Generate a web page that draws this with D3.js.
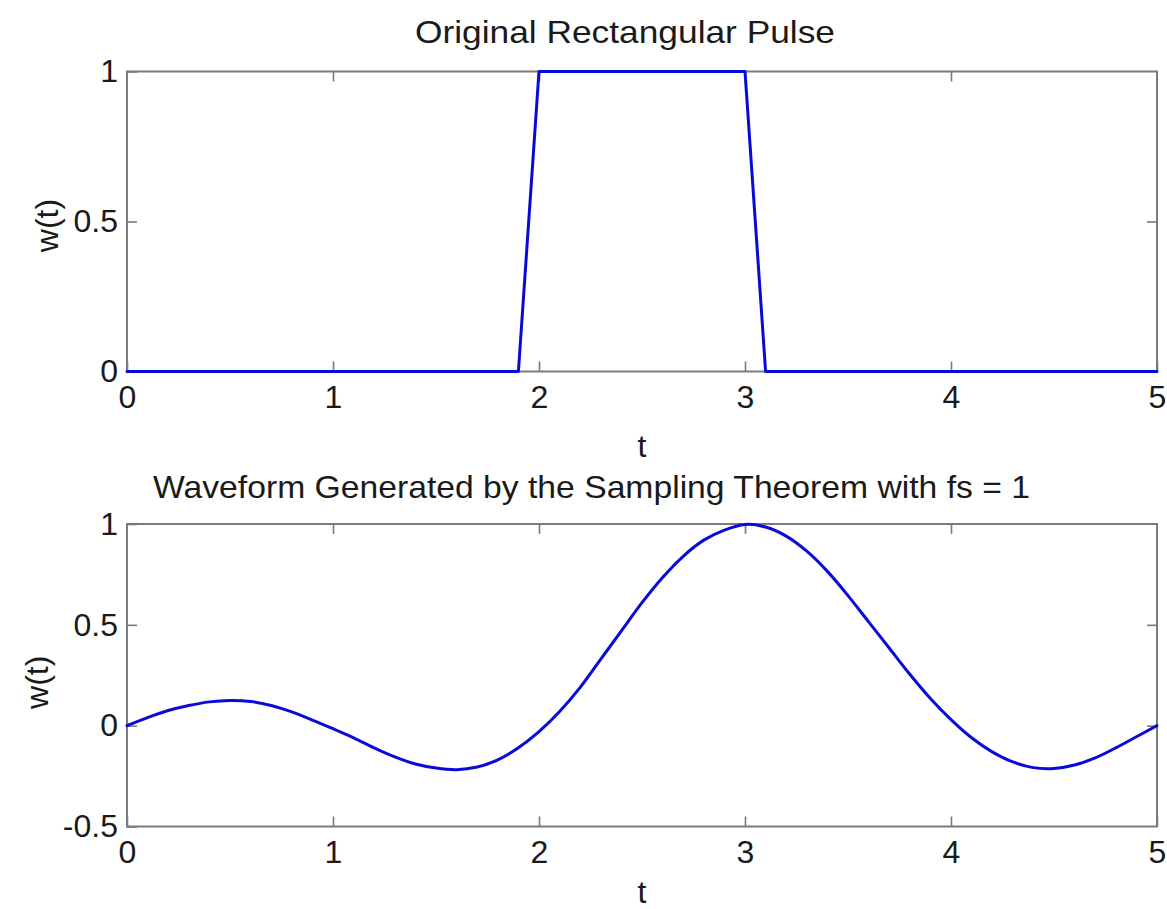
<!DOCTYPE html>
<html>
<head>
<meta charset="utf-8">
<script src="https://cdn.jsdelivr.net/npm/d3@7"></script>
<style>
  html, body { margin: 0; padding: 0; background: #fff; }
  svg { display: block; font-family: "Liberation Sans", Arial, Helvetica, sans-serif; }
</style>
</head>
<body>
<svg id="chart" width="1167" height="909"></svg>
<script>
// ---- data ----
const pulseT = [0,0.1,0.2,0.3,0.4,0.5,0.6,0.7,0.8,0.9,1.0,1.1,1.2,1.3,1.4,1.5,1.6,1.7,1.8,1.9,
                2.0,2.1,2.2,2.3,2.4,2.5,2.6,2.7,2.8,2.9,3.0,3.1,3.2,3.3,3.4,3.5,3.6,3.7,3.8,3.9,
                4.0,4.1,4.2,4.3,4.4,4.5,4.6,4.7,4.8,4.9,5.0];
const pulseW = [0,0,0,0,0,0,0,0,0,0,0,0,0,0,0,0,0,0,0,0,
                1,1,1,1,1,1,1,1,1,1,1,0,0,0,0,0,0,0,0,0,
                0,0,0,0,0,0,0,0,0,0,0];
const waveT = [0,0.1,0.2,0.3,0.4,0.5,0.6,0.7,0.8,0.9,1.0,1.1,1.2,1.3,1.4,1.5,1.6,1.7,1.8,1.9,
               2.0,2.1,2.2,2.3,2.4,2.5,2.6,2.7,2.8,2.9,3.0,3.1,3.2,3.3,3.4,3.5,3.6,3.7,3.8,3.9,
               4.0,4.1,4.2,4.3,4.4,4.5,4.6,4.7,4.8,4.9,5.0];
const waveW = [0.00,0.04,0.075,0.10,0.118,0.125,0.12,0.10,0.068,0.028,-0.015,-0.06,-0.11,-0.155,-0.19,-0.21,-0.218,-0.205,-0.17,-0.11,
               -0.03,0.07,0.19,0.33,0.47,0.61,0.735,0.84,0.92,0.97,0.998,0.985,0.94,0.865,0.765,0.645,0.515,0.385,0.255,0.135,
               0.03,-0.06,-0.13,-0.18,-0.208,-0.212,-0.195,-0.16,-0.11,-0.055,0.00];
const xTicks = [0,1,2,3,4,5];
const yTicksTop = [0,0.5,1];
const yTicksBottom = [-0.5,0,0.5,1];
const titleTop = "Original Rectangular Pulse";
const titleBottom = "Waveform Generated by the Sampling Theorem with fs = 1";
const xLabel = "t";
const yLabel = "w(t)";

// ---- layout ----
const svg = d3.select("#chart");
const L = 127, R = 1157;
const panels = [
  { top: 71.5, bottom: 371.5, yDomain: [0,1], yTicks: yTicksTop, t: pulseT, w: pulseW,
    title: titleTop, titleX: 415, titleY: 43, titleLen: 420, xlabY: 457, ylabX: 47, curve: d3.curveLinear },
  { top: 524, bottom: 826.5, yDomain: [-0.5,1], yTicks: yTicksBottom, t: waveT, w: waveW,
    title: titleBottom, titleX: 153, titleY: 498, titleLen: 877, xlabY: 903, ylabX: 37, curve: d3.curveCatmullRom.alpha(0.5) }
];
const axisColor = "#7a7a7a";
const fontSize = 32;

panels.forEach(p => {
  const x = d3.scaleLinear().domain([0,5]).range([L, R]);
  const y = d3.scaleLinear().domain(p.yDomain).range([p.bottom, p.top]);
  const g = svg.append("g");

  g.append("rect").attr("x", L).attr("y", p.top).attr("width", R - L).attr("height", p.bottom - p.top)
    .attr("fill", "#fff");

  const fmt = d => String(d);
  const styleAxis = sel => {
    sel.select(".domain").remove();
    sel.selectAll(".tick line").attr("stroke", axisColor).attr("stroke-width", 1.6);
    sel.selectAll(".tick text").attr("fill", "#1a1a1a").attr("font-size", fontSize)
      .attr("font-family", "'Liberation Sans', Arial, sans-serif");
  };

  g.append("g").attr("transform", `translate(0,${p.bottom})`)
    .call(d3.axisBottom(x).tickValues(xTicks).tickFormat(fmt).tickSizeInner(-10).tickSizeOuter(0).tickPadding(14))
    .call(styleAxis);
  g.append("g").attr("transform", `translate(0,${p.top})`)
    .call(d3.axisTop(x).tickValues(xTicks.slice(1, -1)).tickFormat("").tickSizeInner(-10).tickSizeOuter(0))
    .call(styleAxis);
  g.append("g").attr("transform", `translate(${L},0)`)
    .call(d3.axisLeft(y).tickValues(p.yTicks).tickFormat(fmt).tickSizeInner(-10).tickSizeOuter(0).tickPadding(9))
    .call(styleAxis);
  g.append("g").attr("transform", `translate(${R},0)`)
    .call(d3.axisRight(y).tickValues(p.yTicks.slice(1, -1)).tickFormat("").tickSizeInner(-10).tickSizeOuter(0))
    .call(styleAxis);

  // frame
  g.append("rect").attr("x", L).attr("y", p.top).attr("width", R - L).attr("height", p.bottom - p.top)
    .attr("fill", "none").attr("stroke", axisColor).attr("stroke-width", 2);

  // data line
  const line = d3.line().x((d, i) => x(p.t[i])).y(d => y(d)).curve(p.curve);
  g.append("path").datum(p.w).attr("d", line)
    .attr("fill", "none").attr("stroke", "#0a0ad8").attr("stroke-width", 3)
    .attr("stroke-linejoin", "round").attr("stroke-linecap", "round");

  // title
  g.append("text").attr("x", p.titleX).attr("y", p.titleY)
    .attr("font-size", fontSize).attr("fill", "#1a1a1a")
    .attr("textLength", p.titleLen).attr("lengthAdjust", "spacingAndGlyphs")
    .text(p.title);

  // x label
  g.append("text").attr("x", (L + R) / 2).attr("y", p.xlabY).attr("text-anchor", "middle")
    .attr("font-size", fontSize).attr("fill", "#1a1a1a").text(xLabel);

  // y label
  const cy = (p.top + p.bottom) / 2 + (p.yDomain[0] < 0 ? 7 : 4);
  g.append("text").attr("transform", `translate(${p.ylabX + 11},${cy}) rotate(-90)`)
    .attr("text-anchor", "middle").attr("font-size", fontSize).attr("fill", "#1a1a1a").text(yLabel);
});
</script>
</body>
</html>
